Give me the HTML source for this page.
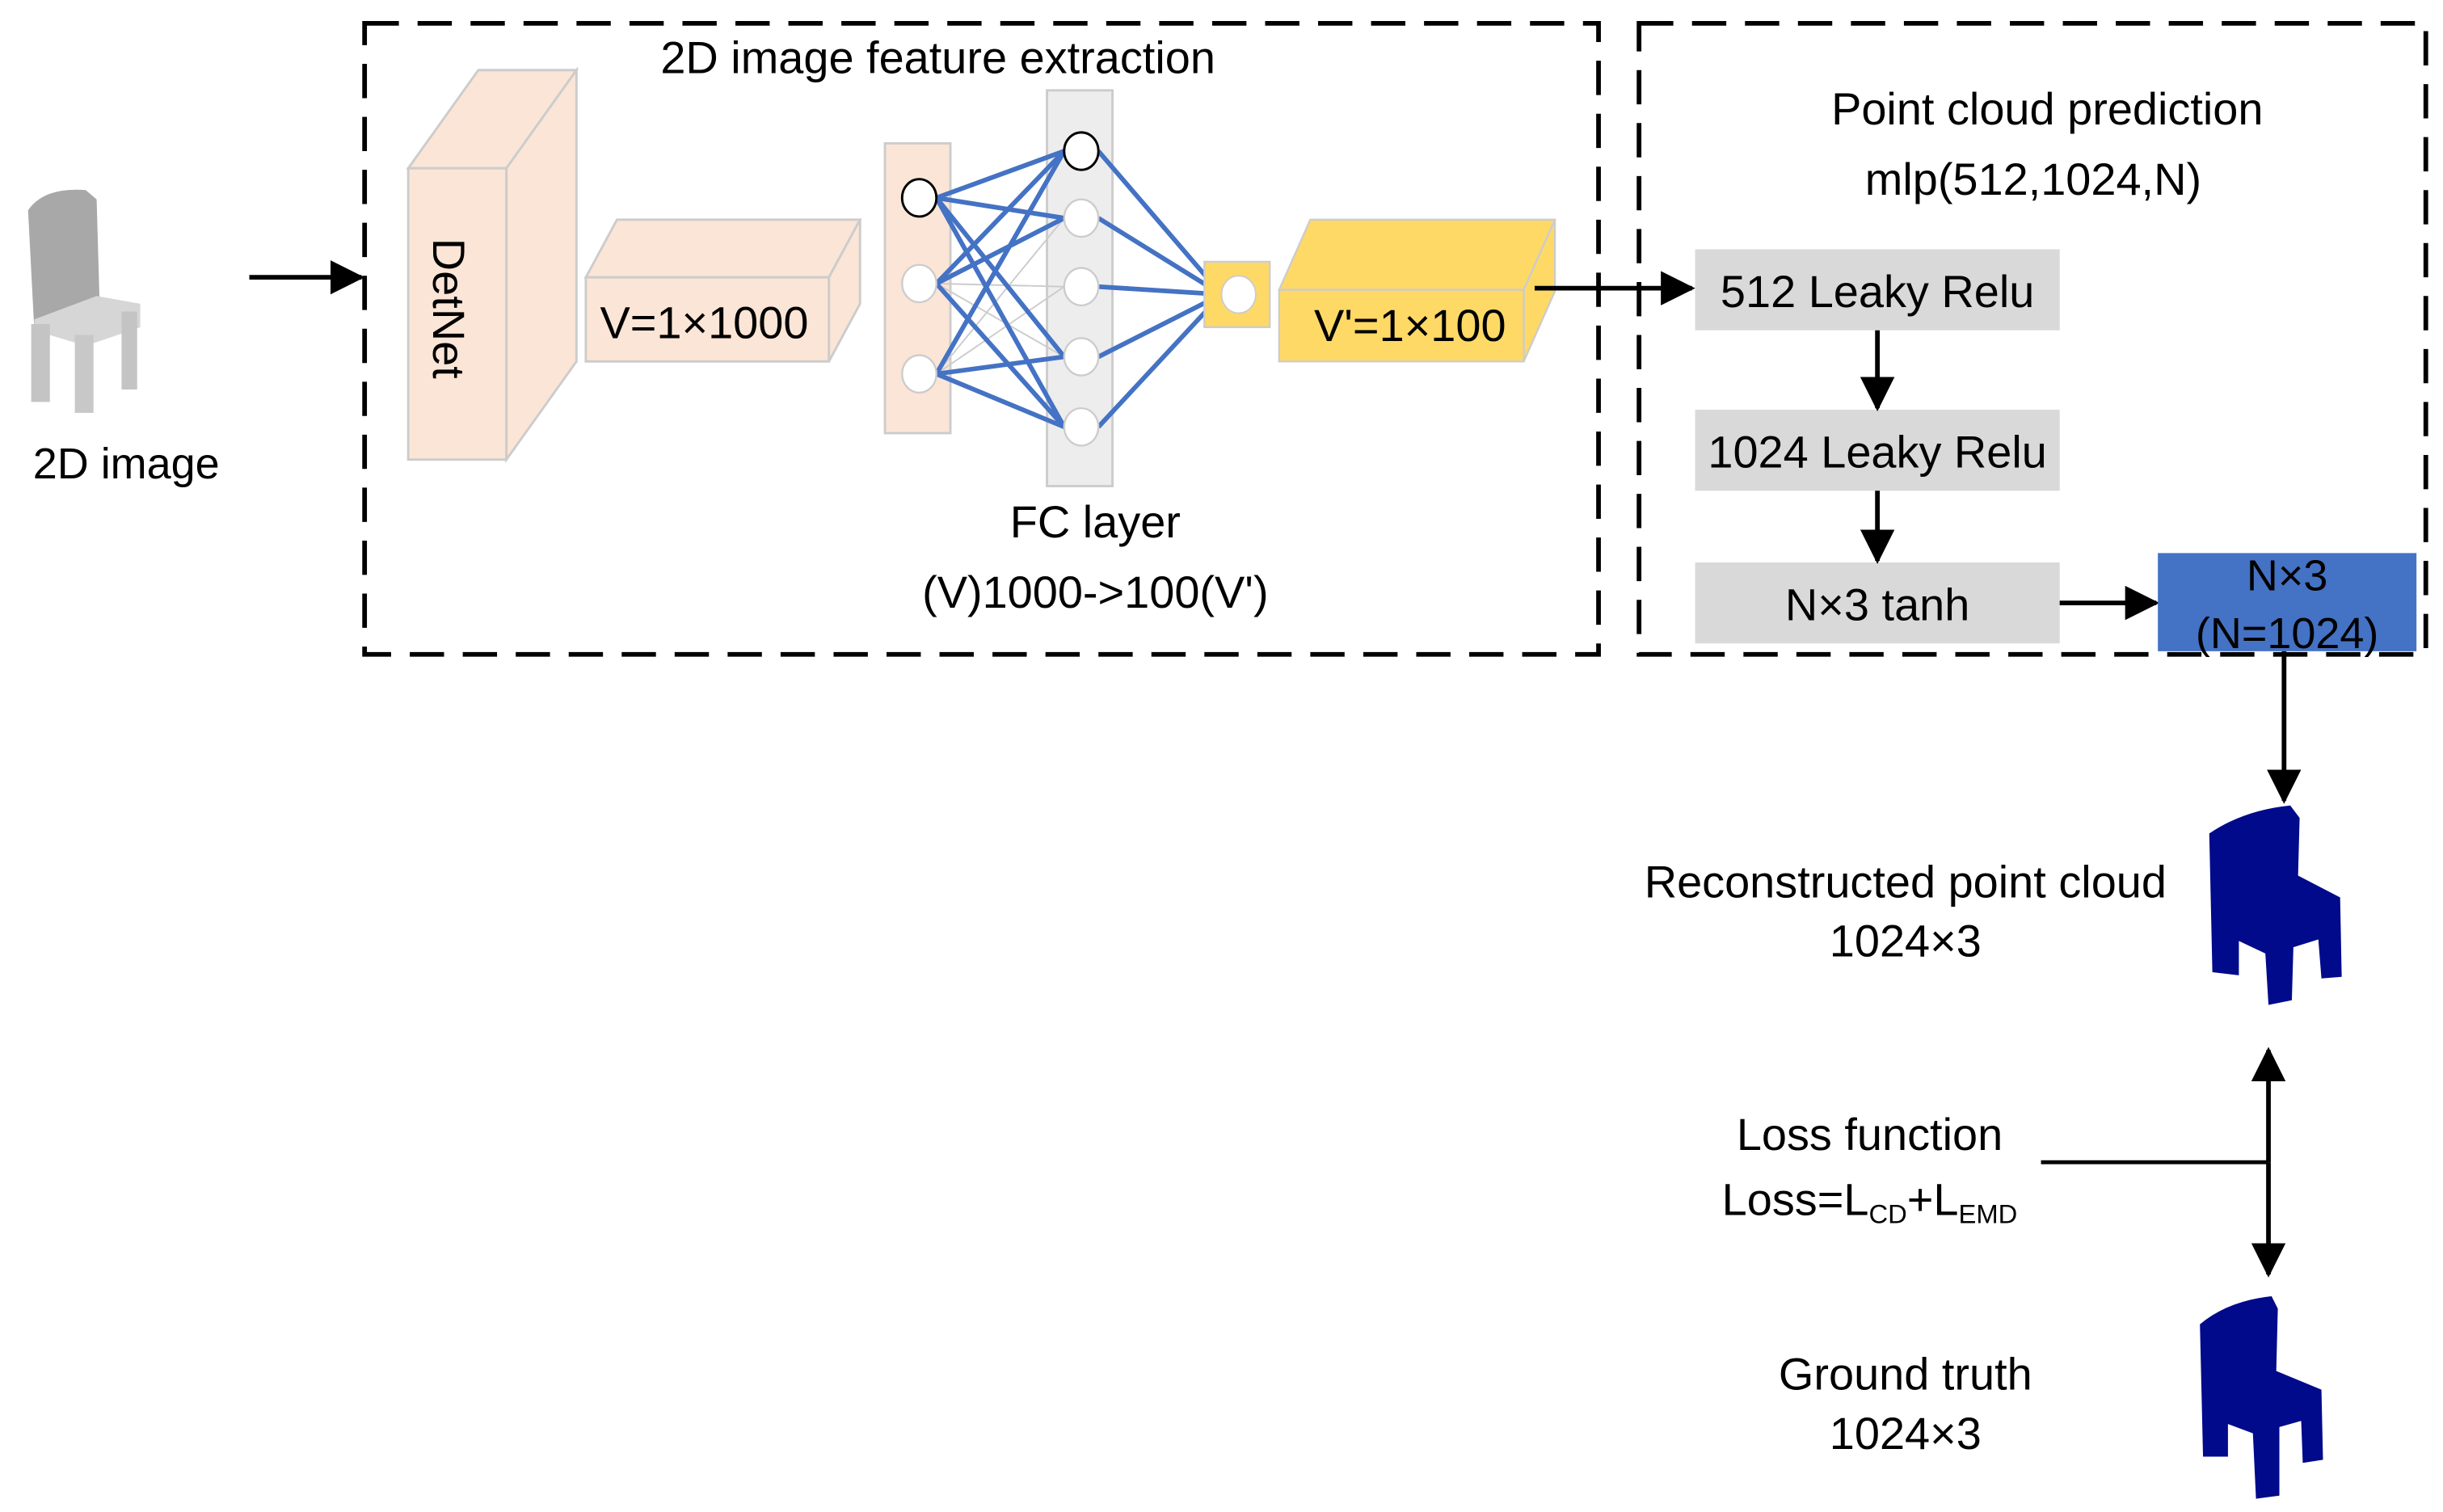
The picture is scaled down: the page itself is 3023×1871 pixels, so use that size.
<!DOCTYPE html>
<html><head><meta charset="utf-8"><style>html,body{margin:0;padding:0;background:#fff}svg{display:block}text{font-family:"Liberation Sans",sans-serif;fill:#000}</style></head>
<body>
<svg width="3023" height="1871" viewBox="0 0 1568 970.5" xmlns="http://www.w3.org/2000/svg">
<defs>
<marker id="ahb" markerWidth="22" markerHeight="22" refX="20" refY="11" orient="auto" markerUnits="userSpaceOnUse" viewBox="0 0 22 22"><path d="M0,0L22,11L0,22z" fill="#000"/></marker>
</defs>
<!-- grey chair -->
<path d="M18,135 Q28,120 55,122 L62,128 L64,198 L22,212 Z" fill="#a8a8a8"/>
<path d="M22,205 L62,190 L90,195 L90,210 L55,222 L22,212 Z" fill="#d6d6d6"/>
<rect x="20" y="208" width="12" height="50" fill="#c4c4c4"/>
<rect x="48" y="215" width="12" height="50" fill="#c8c8c8"/>
<rect x="78" y="200" width="10" height="50" fill="#c4c4c4"/>
<text x="81" y="307" font-size="28" text-anchor="middle">2D image</text>
<line x1="160" y1="178" x2="232" y2="178" stroke="#000" stroke-width="3" marker-end="url(#ahb)"/>
<!-- box1 -->
<rect x="234" y="15" width="792" height="405" fill="none" stroke="#000" stroke-width="3" stroke-dasharray="22,12"/>
<text x="602" y="47" font-size="29" text-anchor="middle">2D image feature extraction</text>
<g stroke="#ccc" stroke-width="1.5" fill="#fbe5d6">
<path d="M262,108 L307,45 L370,45 L325,108 Z"/>
<path d="M325,108 L370,45 L370,232 L325,295 Z"/>
<rect x="262" y="108" width="63" height="187"/>
<path d="M376,178 L396,141 L552,141 L532,178 Z"/>
<path d="M532,178 L552,141 L552,195 L532,232 Z"/>
<rect x="376" y="178" width="156" height="54"/>
<rect x="568" y="92" width="42" height="186"/>
</g>
<text transform="translate(278,198) rotate(90)" font-size="29" text-anchor="middle">DetNet</text>
<text x="452" y="217" font-size="29" text-anchor="middle">V=1×1000</text>
<rect x="672" y="58" width="42" height="254" fill="#ededed" stroke="#ccc" stroke-width="1.5"/>
<g stroke="#ccc" stroke-width="1">
<line x1="601" y1="182" x2="683" y2="184"/><line x1="601" y1="182" x2="683" y2="140"/><line x1="601" y1="182" x2="683" y2="229"/>
<line x1="601" y1="240" x2="683" y2="140"/><line x1="601" y1="240" x2="683" y2="184"/>
</g>
<g stroke="#4472c4" stroke-width="3">
<line x1="601" y1="127" x2="683" y2="97"/><line x1="601" y1="127" x2="683" y2="140"/><line x1="601" y1="127" x2="683" y2="229"/><line x1="601" y1="127" x2="683" y2="274"/>
<line x1="601" y1="182" x2="683" y2="97"/><line x1="601" y1="182" x2="683" y2="140"/><line x1="601" y1="182" x2="683" y2="274"/>
<line x1="601" y1="240" x2="683" y2="97"/><line x1="601" y1="240" x2="683" y2="229"/><line x1="601" y1="240" x2="683" y2="274"/>
<line x1="705" y1="97" x2="784" y2="189"/><line x1="705" y1="140" x2="784" y2="189"/><line x1="705" y1="184" x2="784" y2="189"/><line x1="705" y1="229" x2="784" y2="189"/><line x1="705" y1="274" x2="784" y2="189"/>
</g>
<g fill="#fff" stroke="#ccc" stroke-width="1.2">
<ellipse cx="590" cy="182" rx="11" ry="12"/><ellipse cx="590" cy="240" rx="11" ry="12"/>
<ellipse cx="694" cy="140" rx="11" ry="12"/><ellipse cx="694" cy="184" rx="11" ry="12"/><ellipse cx="694" cy="229" rx="11" ry="12"/><ellipse cx="694" cy="274" rx="11" ry="12"/>
</g>
<g fill="#fff" stroke="#000" stroke-width="1.5">
<ellipse cx="590" cy="127" rx="11" ry="12"/><ellipse cx="694" cy="97" rx="11" ry="12"/>
</g>
<rect x="773" y="168" width="42" height="42" fill="#ffd966" stroke="#ccc" stroke-width="1.2"/>
<ellipse cx="795" cy="189" rx="11" ry="12" fill="#fff" stroke="#ccc"/>
<g stroke="#ccc" stroke-width="1.2" fill="#ffd966">
<path d="M821,186 L841,141 L998,141 L978,186 Z"/>
<path d="M978,186 L998,141 L998,187 L978,232 Z"/>
<rect x="821" y="186" width="157" height="46"/>
</g>
<text x="905" y="219" font-size="29" text-anchor="middle">V'=1×100</text>
<text x="703" y="345" font-size="29" text-anchor="middle">FC layer</text>
<text x="703" y="390" font-size="29" text-anchor="middle">(V)1000-&gt;100(V')</text>
<line x1="985" y1="185" x2="1086" y2="185" stroke="#000" stroke-width="3" marker-end="url(#ahb)"/>
<!-- box2 -->
<rect x="1052" y="15" width="505" height="405" fill="none" stroke="#000" stroke-width="3" stroke-dasharray="22,12"/>
<text x="1314" y="80" font-size="29" text-anchor="middle">Point cloud prediction</text>
<text x="1305" y="125" font-size="29" text-anchor="middle">mlp(512,1024,N)</text>
<g fill="#d9d9d9">
<rect x="1088" y="160" width="234" height="52"/>
<rect x="1088" y="263" width="234" height="52"/>
<rect x="1088" y="361" width="234" height="52"/>
</g>
<text x="1205" y="197" font-size="29" text-anchor="middle">512 Leaky Relu</text>
<text x="1205" y="300" font-size="29" text-anchor="middle">1024 Leaky Relu</text>
<text x="1205" y="398" font-size="29" text-anchor="middle">N×3 tanh</text>
<line x1="1205" y1="212" x2="1205" y2="262" stroke="#000" stroke-width="3" marker-end="url(#ahb)"/>
<line x1="1205" y1="315" x2="1205" y2="360" stroke="#000" stroke-width="3" marker-end="url(#ahb)"/>
<line x1="1322" y1="387" x2="1384" y2="387" stroke="#000" stroke-width="3" marker-end="url(#ahb)"/>
<rect x="1385" y="355" width="166" height="63" fill="#4472c4"/>
<text x="1468" y="379" font-size="28" text-anchor="middle">N×3</text>
<text x="1468" y="416" font-size="28" text-anchor="middle">(N=1024)</text>
<line x1="1466" y1="418" x2="1466" y2="514" stroke="#000" stroke-width="3" marker-end="url(#ahb)"/>
<g fill="#000a8a">
<path d="M1418,535 Q1440,520 1470,517 L1476,525 L1475,562 L1502,576 L1503,627 L1490,628 L1488,603 L1472,608 L1471,642 L1456,645 L1454,612 L1437,604 L1437,626 L1420,624 Z"/>
<path d="M1412,850 Q1430,835 1458,832 L1462,840 L1461,880 L1490,892 L1491,937 L1478,939 L1477,912 L1463,916 L1463,960 L1448,962 L1446,920 L1430,914 L1430,935 L1414,935 Z"/>
</g>
<text x="1223" y="576" font-size="29" text-anchor="middle">Reconstructed point cloud</text>
<text x="1223" y="614" font-size="29" text-anchor="middle">1024×3</text>
<text x="1200" y="738" font-size="29" text-anchor="middle">Loss function</text>
<text x="1200" y="780" font-size="29" text-anchor="middle">Loss=L<tspan font-size="17" dy="5">CD</tspan><tspan dy="-5">+L</tspan><tspan font-size="17" dy="5">EMD</tspan></text>
<line x1="1310" y1="746" x2="1456" y2="746" stroke="#000" stroke-width="2.5"/>
<line x1="1456" y1="746" x2="1456" y2="674" stroke="#000" stroke-width="3" marker-end="url(#ahb)"/>
<line x1="1456" y1="746" x2="1456" y2="818" stroke="#000" stroke-width="3" marker-end="url(#ahb)"/>
<text x="1223" y="892" font-size="29" text-anchor="middle">Ground truth</text>
<text x="1223" y="930" font-size="29" text-anchor="middle">1024×3</text>
</svg>
</body></html>
